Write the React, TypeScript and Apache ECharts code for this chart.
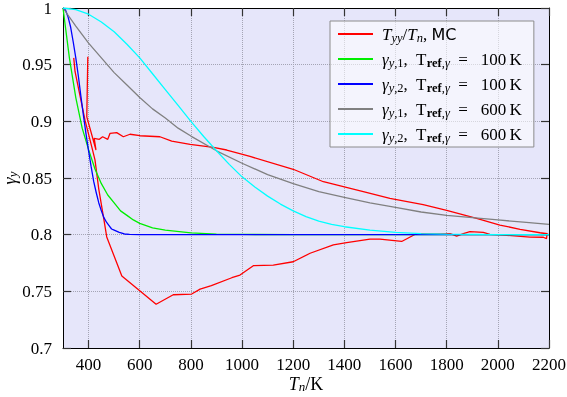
import React, { useEffect, useRef } from "react";
import * as echarts from "echarts";

// ---- data ----
const xTicks = [400, 600, 800, 1000, 1200, 1400, 1600, 1800, 2000, 2200];

const tGreen = [300, 325, 350, 375, 400, 425, 450, 475, 500, 525, 550, 575, 600, 650, 700, 800, 900, 1000, 1200, 2200];
const vGreen = [1.0, 0.956, 0.921, 0.894, 0.875, 0.858, 0.845, 0.835, 0.828, 0.821, 0.817, 0.813, 0.81, 0.806, 0.804, 0.8015, 0.8005, 0.8002, 0.8, 0.8];

const tBlue = [300, 310, 320, 330, 340, 350, 360, 370, 380, 390, 400, 410, 420, 430, 440, 450, 460, 470, 480, 490, 500, 520, 540, 560, 600, 2200];
const vBlue = [1.0, 0.998, 0.992, 0.983, 0.97, 0.956, 0.94, 0.922, 0.905, 0.889, 0.874, 0.86, 0.847, 0.837, 0.828, 0.821, 0.815, 0.811, 0.808, 0.805, 0.804, 0.802, 0.8006, 0.8002, 0.8, 0.8];

const tGray = [300, 350, 400, 450, 500, 550, 600, 650, 700, 750, 800, 900, 1000, 1100, 1200, 1300, 1400, 1500, 1600, 1700, 1800, 1900, 2000, 2100, 2200];
const vGray = [1.0, 0.984, 0.969, 0.956, 0.943, 0.932, 0.921, 0.911, 0.903, 0.894, 0.887, 0.874, 0.863, 0.853, 0.845, 0.838, 0.833, 0.828, 0.824, 0.82, 0.817, 0.815, 0.813, 0.811, 0.809];

const tCyan = [300, 350, 400, 450, 500, 550, 600, 650, 700, 750, 800, 850, 900, 950, 1000, 1050, 1100, 1150, 1200, 1250, 1300, 1350, 1400, 1500, 1600, 1700, 1800, 1900, 2000, 2200];
const vCyan = [1.0, 0.9986, 0.9945, 0.9877, 0.979, 0.968, 0.956, 0.942, 0.928, 0.914, 0.9, 0.8866, 0.874, 0.862, 0.851, 0.842, 0.834, 0.827, 0.821, 0.816, 0.812, 0.809, 0.807, 0.804, 0.802, 0.801, 0.8004, 0.8002, 0.8, 0.8];

// Monte Carlo curve, in the drawing order of the reference polyline
const tMC = [
  342, 347, 386, 413, 425, 440, 458, 471, 530, 664, 731, 803, 836, 880, 960, 992, 1044, 1122, 1200, 1266,
  1357, 1409, 1500, 1539, 1624, 1683, 1774, 1814, 1839, 1865, 1891, 1943, 1969, 2035, 2126, 2178, 2190,
  2193, 2165, 2087, 2008, 1917, 1800, 1708, 1578, 1474, 1318, 1200, 1031, 940, 888, 797, 725, 679, 601,
  562, 536, 510, 484, 475, 455, 442, 422, 429, 393, 397,
];
const vMC = [
  0.956, 0.944, 0.901, 0.877, 0.866, 0.84, 0.816, 0.798, 0.7635, 0.7386, 0.747, 0.7476, 0.752, 0.755, 0.762, 0.7644, 0.7726, 0.7732, 0.7761, 0.7836,
  0.791, 0.793, 0.796, 0.796, 0.794, 0.801, 0.8006, 0.801, 0.7988, 0.801, 0.8026, 0.802, 0.8003, 0.7994, 0.7979, 0.7977, 0.7965,
  0.8008, 0.8017, 0.8047, 0.8085, 0.8144, 0.8215, 0.8265, 0.832, 0.838, 0.8467, 0.8577, 0.869, 0.8747, 0.877, 0.8797, 0.8826, 0.8864, 0.8873,
  0.8886, 0.8864, 0.89, 0.8894, 0.8841, 0.8864, 0.8841, 0.885, 0.8747, 0.904, 0.957,
];

const names = [
  "T_yy/T_n, MC",
  "γ_y,1, T_ref,γ = 100 K",
  "γ_y,2, T_ref,γ = 100 K",
  "γ_y,1, T_ref,γ = 600 K",
  "γ_y,2, T_ref,γ = 600 K",
];
const legendRich = [
  "{i|T}{s|yy}{n|/}{i|T}{s|n}{n|, }{sans|MC}",
  "{i|γ}{s|y}{su|,1}{n|,  T}{sr|ref}{su|,}{s|γ}{n|  =   100\u2009K}",
  "{i|γ}{s|y}{su|,2}{n|,  T}{sr|ref}{su|,}{s|γ}{n|  =   100\u2009K}",
  "{i|γ}{s|y}{su|,1}{n|,  T}{sr|ref}{su|,}{s|γ}{n|  =   600\u2009K}",
  "{i|γ}{s|y}{su|,2}{n|,  T}{sr|ref}{su|,}{s|γ}{n|  =   600\u2009K}",
];
const colors = ["#ff0000", "#00ee00", "#0000ff", "#808080", "#00ffff"];

const serif = '"Liberation Serif", "DejaVu Serif", serif';

function zip(t: number[], v: number[]) {
  return t.map((x, i) => [x, v[i]]);
}

function richSet(size: number, sub: number, lh: number) {
  return {
    n: { fontFamily: serif, fontSize: size, lineHeight: lh, color: "#000" },
    i: { fontFamily: serif, fontSize: size, fontStyle: "italic", lineHeight: lh, color: "#000" },
    s: { fontFamily: serif, fontSize: sub, fontStyle: "italic", lineHeight: sub + 1, verticalAlign: "bottom", color: "#000" },
    su: { fontFamily: serif, fontSize: sub, lineHeight: sub + 1, verticalAlign: "bottom", color: "#000" },
    sr: { fontFamily: serif, fontSize: sub, fontWeight: "bold", lineHeight: sub + 1, verticalAlign: "bottom", color: "#000" },
    sans: { fontFamily: '"DejaVu Sans", sans-serif', fontSize: size - 1, lineHeight: lh, color: "#000" },
  };
}

export default function App() {
  const ref = useRef<HTMLDivElement>(null);
  useEffect(() => {
    const chart = echarts.init(ref.current!, null, { renderer: "svg" });
    const seriesData = [zip(tMC, vMC), zip(tGreen, vGreen), zip(tBlue, vBlue), zip(tGray, vGray), zip(tCyan, vCyan)];
    const tickStyle = { show: true, inside: true, length: 8, lineStyle: { color: "#333", width: 1.2 } };
    const option: any = {
      animation: false,
      grid: {
        left: 63,
        right: 18,
        top: 8,
        bottom: 49,
        containLabel: false,
        outerBoundsMode: "none",
        show: true,
        backgroundColor: "#e6e6fa",
        borderWidth: 0,
      },
      legend: {
        show: true,
        orient: "vertical",
        left: 330,
        top: 21,
        padding: [3, 12, 3, 8],
        itemGap: 5,
        itemWidth: 35,
        itemHeight: 2,
        icon: "rect",
        selectedMode: false,
        backgroundColor: "rgba(255,255,255,0.55)",
        borderColor: "#8c8c8c",
        borderWidth: 1,
        borderRadius: 0,
        data: names,
        formatter: (name: string) => legendRich[names.indexOf(name)],
        textStyle: {
          fontFamily: serif,
          fontSize: 17,
          lineHeight: 20,
          padding: [0, 0, 0, 4],
          rich: richSet(17, 12.5, 20),
        },
      },
      xAxis: [
        {
          type: "value",
          min: 300,
          max: 2200,
          name: "{i|T}{s|n}{n|/K}",
          nameLocation: "middle",
          nameGap: 27,
          nameMoveOverlap: false,
          nameTextStyle: { rich: richSet(18, 13, 18) },
          axisLine: { show: true, onZero: false, lineStyle: { color: "#000", width: 1 } },
          axisTick: { ...tickStyle, customValues: xTicks },
          axisLabel: {
            customValues: xTicks,
            margin: 8,
            fontFamily: serif,
            fontSize: 17,
            color: "#000",
            formatter: (v: number) => String(v),
          },
          splitLine: { show: true, lineStyle: { color: "#a4a4b4", type: "dotted", width: 1 } },
        },
        {
          type: "value",
          position: "top",
          min: 300,
          max: 2200,
          axisLine: { show: true, onZero: false, lineStyle: { color: "#000", width: 1 } },
          axisTick: { ...tickStyle, customValues: xTicks },
          axisLabel: { show: false, customValues: xTicks },
          splitLine: { show: false },
        },
      ],
      yAxis: [
        {
          type: "value",
          min: 0.7,
          max: 1,
          interval: 0.05,
          name: "{i|γ}{s|y}",
          nameLocation: "middle",
          nameGap: 44,
          nameMoveOverlap: false,
          nameTextStyle: { rich: richSet(18, 13, 18) },
          axisLine: { show: true, onZero: false, lineStyle: { color: "#000", width: 1 } },
          axisTick: tickStyle,
          axisLabel: { margin: 11, fontFamily: serif, fontSize: 17, color: "#000" },
          splitLine: { show: true, lineStyle: { color: "#a4a4b4", type: "dotted", width: 1 } },
        },
        {
          type: "value",
          position: "right",
          min: 0.7,
          max: 1,
          interval: 0.05,
          axisLine: { show: true, onZero: false, lineStyle: { color: "#000", width: 1 } },
          axisTick: tickStyle,
          axisLabel: { show: false },
          splitLine: { show: false },
        },
      ],
      series: names.map((n, i) => ({
        name: n,
        type: "line",
        xAxisIndex: 0,
        yAxisIndex: 0,
        data: seriesData[i],
        color: colors[i],
        showSymbol: false,
        symbol: "none",
        smooth: false,
        lineStyle: { color: colors[i], width: 1.3 },
        z: 2 + i,
      })),
    };
    chart.setOption(option);
    return () => chart.dispose();
  }, []);
  return <div ref={ref} style={{ position: "fixed", left: 0, top: 0, width: 567, height: 397 }} />;
}
